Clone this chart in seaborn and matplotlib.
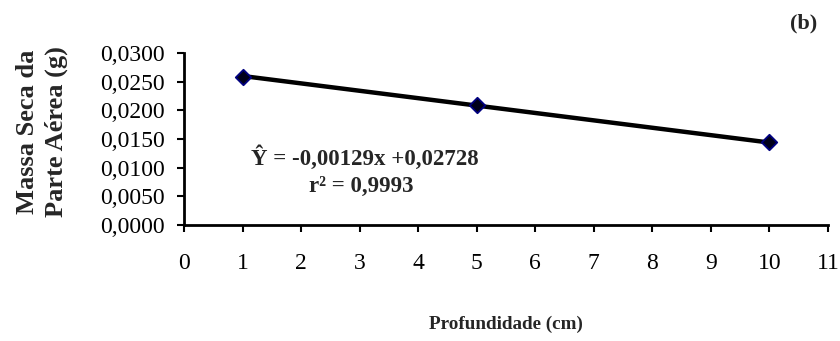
import numpy as np
import pandas as pd
import matplotlib
matplotlib.use("Agg")
import matplotlib.pyplot as plt
import seaborn as sns

# Observed dry mass of the aerial part at each sowing depth
profundidade = [1, 5, 10]
massa_seca = [0.0259, 0.0210, 0.0144]

# Fitted linear regression
coef_a = -0.00129
coef_b = 0.02728
r2 = 0.9993

x_ticks = list(range(0, 12))
y_ticks = [0.0, 0.005, 0.010, 0.015, 0.020, 0.025, 0.030]

sns.set_theme(style="white")
plt.rcParams["font.family"] = ["Liberation Serif", "DejaVu Serif"]

df = pd.DataFrame({"Profundidade": profundidade, "Massa": massa_seca})
xs = np.array([min(profundidade), max(profundidade)], dtype=float)
fit = pd.DataFrame({"x": xs, "y": coef_a * xs + coef_b})

fig = plt.figure(figsize=(8.4, 3.41), dpi=100)
ax = fig.add_axes([184 / 840, 1 - 225 / 341, (828 - 184) / 840, (225 - 53) / 341])

sns.lineplot(data=fit, x="x", y="y", ax=ax, color="black", linewidth=3.2)
sns.scatterplot(data=df, x="Profundidade", y="Massa", ax=ax, marker="D",
                s=62, color="#00001a", edgecolor="#000080", linewidth=1.3, zorder=5)

ax.set_xlim(0, 11)
ax.set_ylim(0, 0.030)
ax.set_xticks(x_ticks)
ax.set_yticks(y_ticks)
ax.set_yticklabels([f"{v:.4f}".replace(".", ",") for v in y_ticks])
ax.set_xticklabels([str(v) for v in x_ticks])
ax.tick_params(axis="both", labelsize=17, length=5, width=1.5, color="black",
               direction="out", left=True, bottom=True, labelcolor="black")
ax.tick_params(axis="x", pad=15)
ax.tick_params(axis="y", pad=9)

for side in ["top", "right"]:
    ax.spines[side].set_visible(False)
for side in ["left", "bottom"]:
    ax.spines[side].set_color("black")
    ax.spines[side].set_linewidth(2)

ax.set_xlabel("")
ax.set_ylabel("")

fig.text(506 / 840, 1 - 324 / 341, "Profundidade (cm)", ha="center", va="center",
         fontsize=13.8, fontweight="bold")
fig.text(42 / 840, 1 - 132 / 341, "Massa Seca da\nParte Aérea (g)", ha="center",
         va="center", rotation=90, fontsize=19, fontweight="bold", linespacing=1.3)
fig.text(804 / 840, 1 - 23 / 341, "(b)", ha="center", va="center",
         fontsize=16, fontweight="bold")

eq = f"Ŷ = {coef_a:.5f}x +{coef_b:.5f}".replace(".", ",")
fig.text(365 / 840, 1 - 158 / 341, eq, ha="center", va="center",
         fontsize=16.5, fontweight="bold")
fig.text(361 / 840, 1 - 186 / 341, f"r² = {r2:.4f}".replace(".", ","),
         ha="center", va="center", fontsize=16.5, fontweight="bold")

fig.savefig("out.png", dpi=100, facecolor="white")
